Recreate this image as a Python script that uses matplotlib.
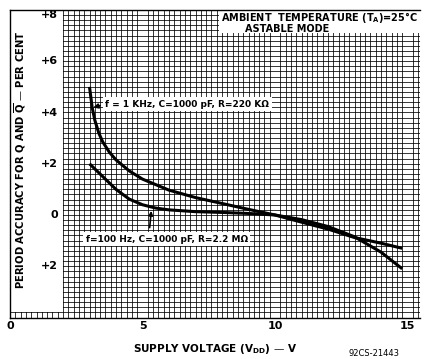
import numpy as np
import matplotlib
matplotlib.use("Agg")
import matplotlib.pyplot as plt
from matplotlib.patches import Rectangle

# ---- data ----
x_1khz = [3.0, 3.1, 3.2, 3.35, 3.5, 3.75, 4.0, 4.5, 5.0, 6.0, 7.0, 8.0, 9.0, 10.0, 11.0, 12.0, 13.0, 14.0, 14.8]
y_1khz = [5.0, 4.2, 3.7, 3.2, 2.85, 2.45, 2.15, 1.72, 1.4, 0.97, 0.68, 0.45, 0.22, 0.0, -0.28, -0.55, -0.88, -1.1, -1.3]
x_100hz = [3.0, 3.5, 4.0, 4.5, 5.0, 5.5, 6.0, 7.0, 8.0, 9.0, 10.0, 11.0, 12.0, 13.0, 14.0, 14.8]
y_100hz = [2.0, 1.5, 1.0, 0.62, 0.4, 0.27, 0.2, 0.13, 0.1, 0.06, 0.0, -0.18, -0.45, -0.85, -1.45, -2.1]
label_1khz = "f = 1 KHz, C=1000 pF, R=220 KΩ"
label_100hz = "f=100 Hz, C=1000 pF, R=2.2 MΩ"
x_ticks = [0, 5, 10, 15]
x_ticklabels = ["0", "5", "10", "15"]
y_tickvals = [7.8, 6, 4, 2, 0, -2]
y_ticklabels = ["+8", "+6", "+4", "+2", "0", "+2"]

plt.rcParams['font.family'] = ['DejaVu Sans']
plt.rcParams['mathtext.default'] = 'bf'

fig = plt.figure(figsize=(4.25, 3.59), dpi=100)
ax = fig.add_axes([10/425, 1-317.5/359, 410/425, 307.5/359])
ax.set_xlim(0, 15.47)
ax.set_ylim(-4.0, 8.0)

ax.set_xticks(np.arange(0, 15.5, 0.2), minor=True)
ax.set_yticks(np.arange(-4, 8.01, 0.2), minor=True)
ax.set_yticks([])
ax.set_xticks(x_ticks)
ax.set_xticklabels(x_ticklabels, fontsize=8, fontweight='bold')
ax.tick_params(axis='x', which='both', length=0, pad=2.5)
ax.tick_params(axis='y', which='both', length=0)
ax.grid(which='minor', color='black', linewidth=0.55)
ax.set_axisbelow(True)
for s in ax.spines.values():
    s.set_linewidth(1.0)
ax.spines['right'].set_visible(False)

# white regions
ax.add_patch(Rectangle((0, -3.8), 2.0, 11.8, facecolor='white', edgecolor='none', zorder=2))
ax.add_patch(Rectangle((7.9, 7.1), 7.57, 0.9, facecolor='white', edgecolor='none', zorder=2))

# curves
ax.plot(x_1khz, y_1khz, color='black', lw=2.2, zorder=3, solid_capstyle='butt')
ax.plot(x_100hz, y_100hz, color='black', lw=2.2, zorder=3, solid_capstyle='butt')

# y tick labels
for v, t in zip(y_tickvals, y_ticklabels):
    ax.text(1.8, v, t, ha='right', va='center', fontsize=8, fontweight='bold', zorder=4)

# annotations
ax.text(3.6, 4.33, label_1khz, ha='left', va='center', fontsize=6.5, fontweight='bold', zorder=4,
        bbox=dict(facecolor='white', edgecolor='none', pad=1.8))
ax.annotate('', xy=(3.04, 4.16), xytext=(3.5, 4.3),
            arrowprops=dict(arrowstyle='-|>', color='black', lw=1.2, mutation_scale=7), zorder=4)
ax.text(2.85, -0.95, label_100hz, ha='left', va='center', fontsize=6.5, fontweight='bold', zorder=4,
        bbox=dict(facecolor='white', edgecolor='none', pad=1.8))
ax.annotate('', xy=(5.34, 0.27), xytext=(5.26, -0.6),
            arrowprops=dict(arrowstyle='-|>', color='black', lw=1.2, mutation_scale=6), zorder=4)

ax.text(7.95, 7.7, "AMBIENT  TEMPERATURE (T$_A$)=25°C", ha='left', va='center', fontsize=7,
        fontweight='bold', zorder=4)
ax.text(8.85, 7.27, "ASTABLE MODE", ha='left', va='center', fontsize=7, fontweight='bold', zorder=4)

fig.text(20/425, 1-160/359, "PERIOD ACCURACY FOR Q AND $\\overline{\\mathbf{Q}}$ — PER CENT", rotation=90,
         ha='center', va='center', fontsize=7.2, fontweight='bold')
fig.text(215/425, 1-349/359, "SUPPLY VOLTAGE (V$_{DD}$) — V", ha='center', va='center',
         fontsize=7.5, fontweight='bold')
fig.text(374/425, 1-353/359, "92CS-21443", ha='center', va='center', fontsize=6)

fig.savefig("out.png", dpi=100)
